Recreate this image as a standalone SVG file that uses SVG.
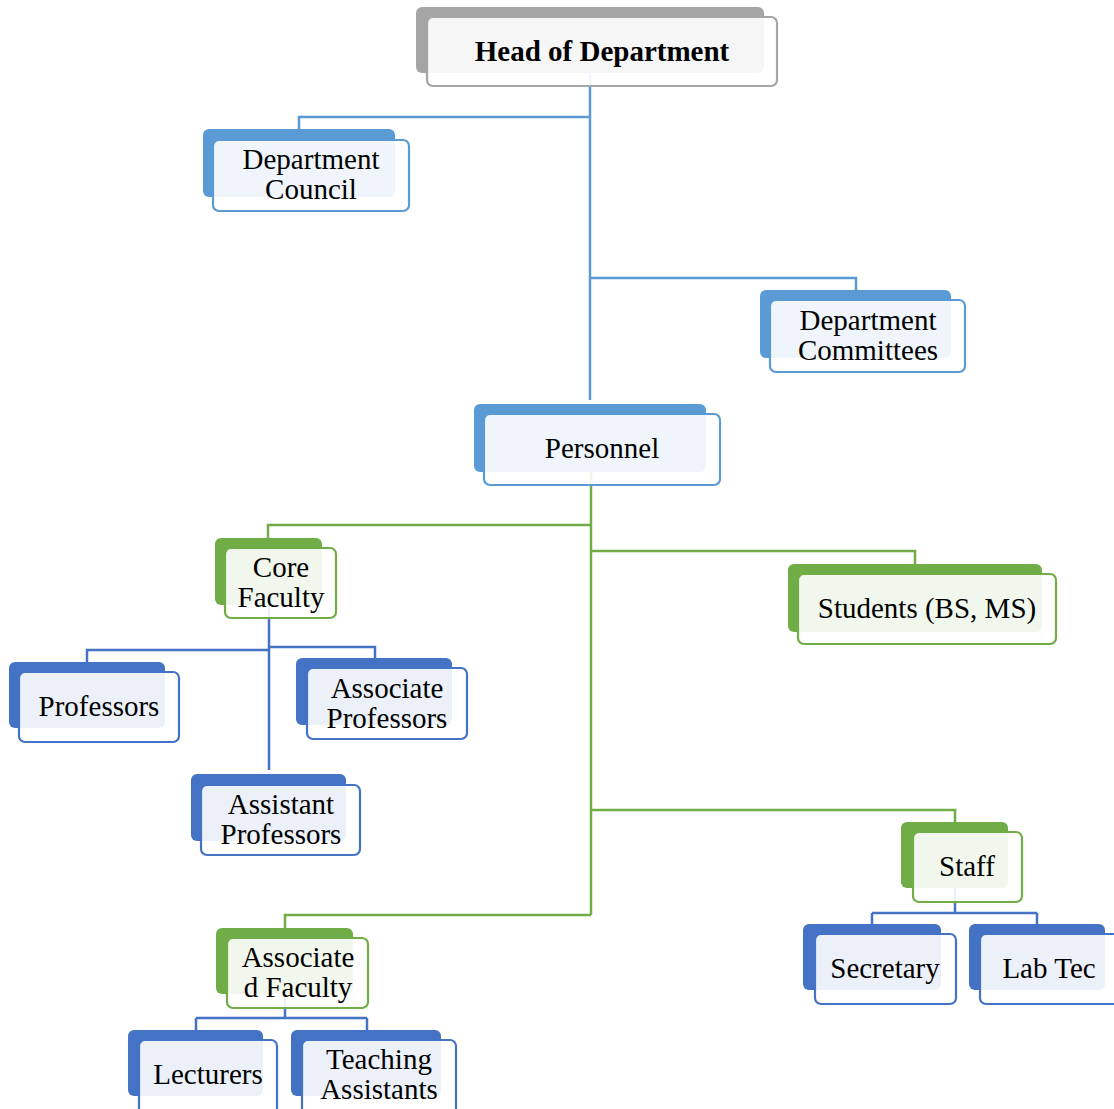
<svg xmlns="http://www.w3.org/2000/svg" width="1114" height="1109" viewBox="0 0 1114 1109" font-family="'Liberation Serif', 'Times New Roman', serif">
<style>
text{font-family:'Liberation Serif','Times New Roman',serif;font-size:29px;fill:#000;text-anchor:middle}
.b{font-weight:bold}
.front{fill:#fff;fill-opacity:0.9;stroke-width:2.2}
.gray .bk{fill:#A5A5A5}.gray .front{stroke:#A5A5A5}
.lb .bk{fill:#5B9BD5}.lb .front{stroke:#5B9BD5}
.gr .bk{fill:#70AD47}.gr .front{stroke:#70AD47}
.db .bk{fill:#4472C4}.db .front{stroke:#4472C4}
.c{fill:none;stroke-width:2.5}
.c1{stroke:#5B9BD5}.c2{stroke:#70AD47}.c3{stroke:#4472C4}
</style>
<rect width="1114" height="1109" fill="#fff"/>
<g id="connectors">
<path class="c c1" d="M590,73V400M590,117H299V129M590,278H856V290"/>
<path class="c c2" d="M591,472V915M591,525H268V538M591,551H915V564M591,810H955V822M591,915H285V928"/>
<path class="c c3" d="M269,605V770M269,650H87V662M269,647H375V658"/>
<path class="c c3" d="M285,994V1018M196,1018H367M196,1018V1030M367,1018V1030"/>
<path class="c c3" d="M955,888V913M872,913H1037M872,913V924M1037,913V924"/>
</g>
<g id="head" class="gray">
<rect class="bk" x="416" y="7" width="348" height="66" rx="6"/>
<rect class="front" x="427" y="17" width="350" height="69" rx="6"/>
<text class="b" x="602" y="61">Head of Department</text>
</g>
<g id="council" class="lb">
<rect class="bk" x="203" y="129" width="192" height="68" rx="6"/>
<rect class="front" x="213" y="140" width="196" height="71" rx="6"/>
<text x="311" y="169">Department</text><text x="311" y="199">Council</text>
</g>
<g id="committees" class="lb">
<rect class="bk" x="760" y="290" width="191" height="68" rx="6"/>
<rect class="front" x="770" y="300" width="195" height="72" rx="6"/>
<text x="868" y="330">Department</text><text x="868" y="360">Committees</text>
</g>
<g id="personnel" class="lb">
<rect class="bk" x="474" y="404" width="232" height="68" rx="6"/>
<rect class="front" x="484" y="414" width="236" height="71" rx="6"/>
<text x="602" y="458">Personnel</text>
</g>
<g id="core" class="gr">
<rect class="bk" x="215" y="538" width="107" height="67" rx="6"/>
<rect class="front" x="225" y="548" width="111" height="70" rx="6"/>
<text x="281" y="577">Core</text><text x="281" y="607">Faculty</text>
</g>
<g id="students" class="gr">
<rect class="bk" x="788" y="564" width="254" height="68" rx="6"/>
<rect class="front" x="798" y="574" width="258" height="70" rx="6"/>
<text x="927" y="618">Students (BS, MS)</text>
</g>
<g id="professors" class="db">
<rect class="bk" x="9" y="662" width="156" height="66" rx="6"/>
<rect class="front" x="19" y="672" width="160" height="70" rx="6"/>
<text x="99" y="716">Professors</text>
</g>
<g id="assoc-prof" class="db">
<rect class="bk" x="296" y="658" width="156" height="67" rx="6"/>
<rect class="front" x="307" y="668" width="160" height="71" rx="6"/>
<text x="387" y="698">Associate</text><text x="387" y="728">Professors</text>
</g>
<g id="asst-prof" class="db">
<rect class="bk" x="191" y="774" width="155" height="67" rx="6"/>
<rect class="front" x="201" y="785" width="159" height="70" rx="6"/>
<text x="281" y="814">Assistant</text><text x="281" y="844">Professors</text>
</g>
<g id="staff" class="gr">
<rect class="bk" x="901" y="822" width="107" height="66" rx="6"/>
<rect class="front" x="913" y="832" width="109" height="70" rx="6"/>
<text x="967" y="876">Staff</text>
</g>
<g id="assoc-fac" class="gr">
<rect class="bk" x="216" y="928" width="137" height="66" rx="6"/>
<rect class="front" x="227" y="938" width="141" height="70" rx="6"/>
<text x="298" y="967">Associate</text><text x="298" y="997">d Faculty</text>
</g>
<g id="secretary" class="db">
<rect class="bk" x="803" y="924" width="138" height="66" rx="6"/>
<rect class="front" x="815" y="934" width="141" height="70" rx="6"/>
<text x="885" y="978">Secretary</text>
</g>
<g id="labtec" class="db">
<rect class="bk" x="969" y="924" width="136" height="66" rx="6"/>
<rect class="front" x="980" y="934" width="145" height="70" rx="6"/>
<text x="1049" y="978">Lab Tec</text>
</g>
<g id="lecturers" class="db">
<rect class="bk" x="128" y="1030" width="135" height="66" rx="6"/>
<rect class="front" x="139" y="1040" width="138" height="75" rx="6"/>
<text x="208" y="1084">Lecturers</text>
</g>
<g id="ta" class="db">
<rect class="bk" x="291" y="1030" width="150" height="66" rx="6"/>
<rect class="front" x="302" y="1040" width="154" height="75" rx="6"/>
<text x="379" y="1069">Teaching</text><text x="379" y="1099">Assistants</text>
</g>
</svg>
